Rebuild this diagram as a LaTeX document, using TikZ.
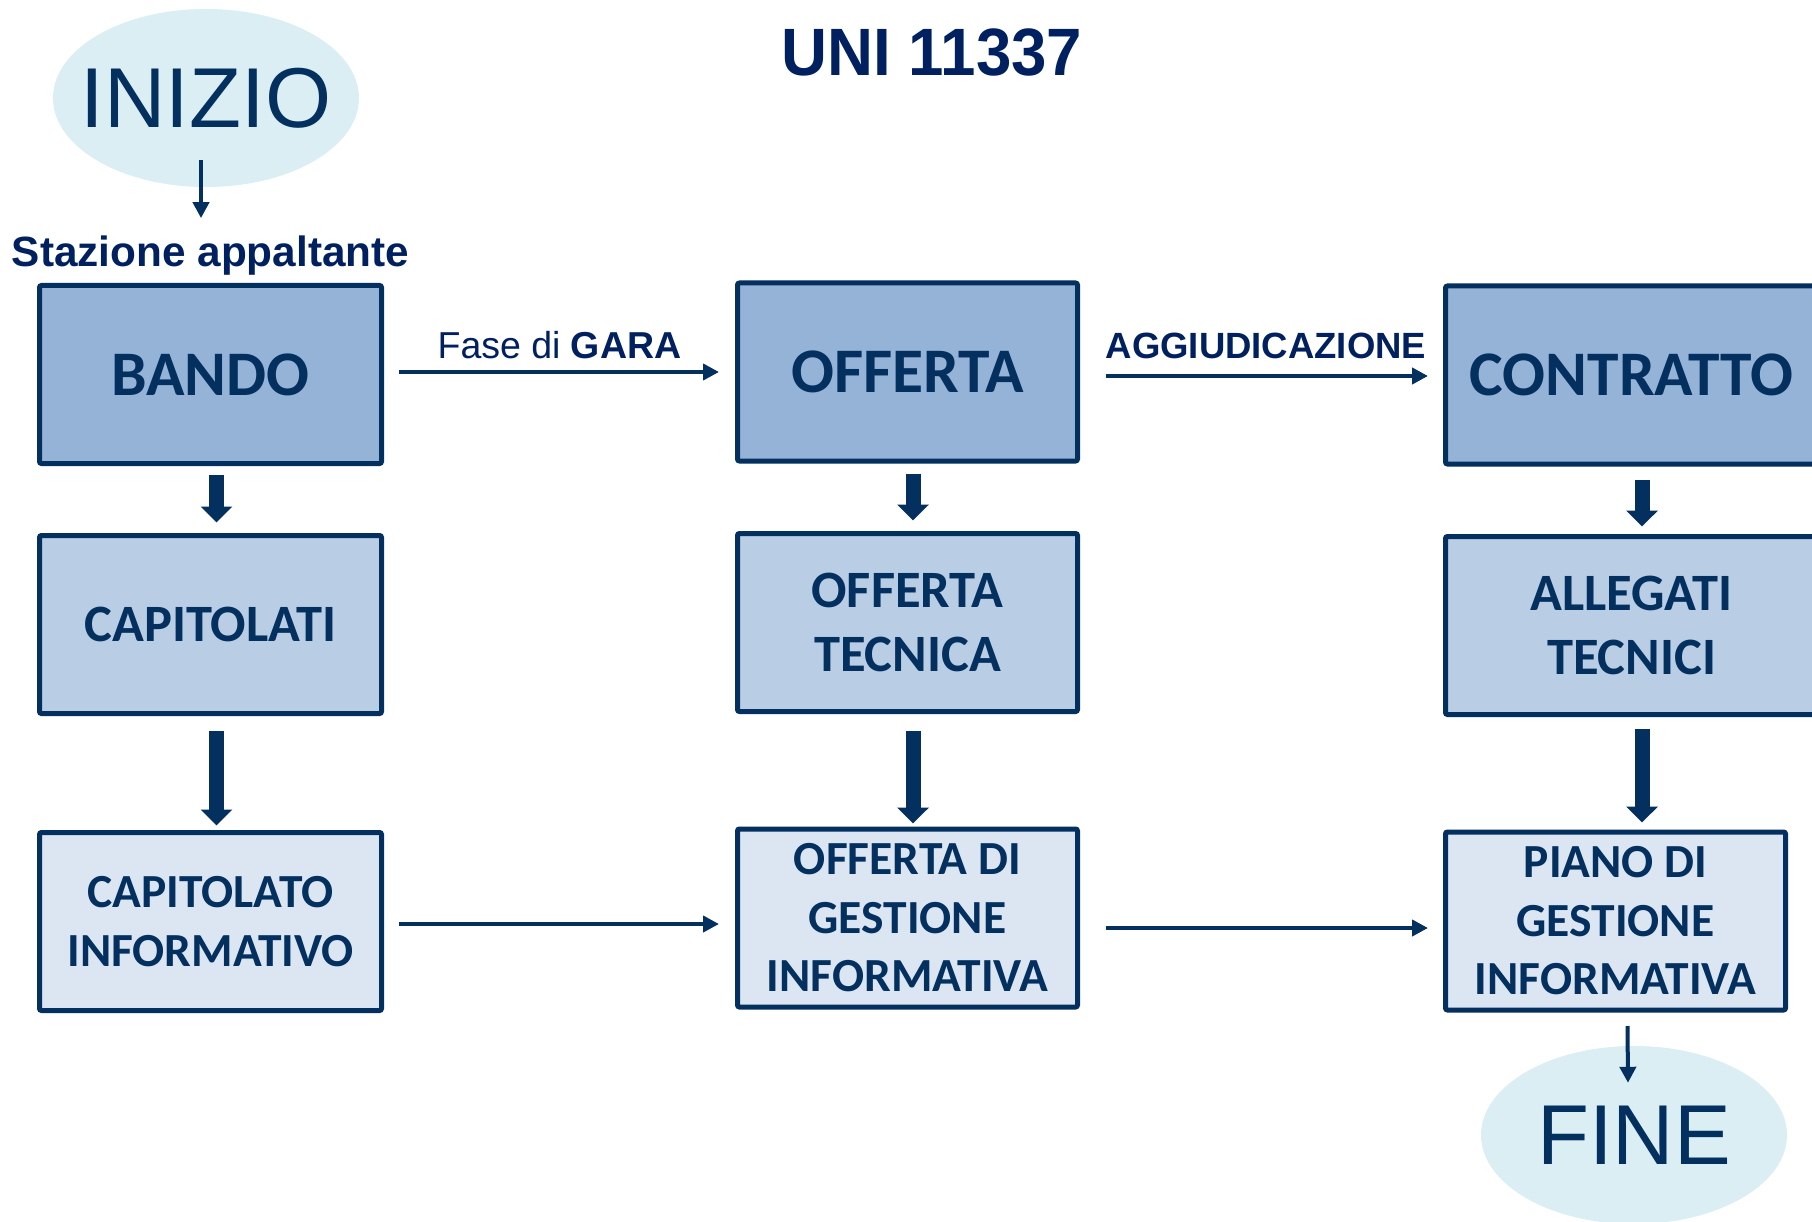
\documentclass[tikz,border=0pt]{standalone}
\usepackage{fontspec}
\usepackage{graphicx}
\setmainfont{Liberation Sans}
\newfontfamily\boxfont{Carlito}
\usetikzlibrary{arrows.meta,shapes.geometric}
\definecolor{navy}{HTML}{03305E}
\definecolor{darkblue}{HTML}{002060}
\definecolor{fillA}{HTML}{95B3D7}
\definecolor{fillB}{HTML}{B9CDE5}
\definecolor{fillC}{HTML}{DCE6F2}
\definecolor{ellfill}{HTML}{DAEEF3}
\begin{document}
\begin{tikzpicture}[x=1pt,y=-1pt,
  box/.style={draw=navy, line width=5pt, rounded corners=2pt, text=navy, align=center,
    inner sep=0pt, minimum width=342pt, minimum height=178pt},
  lvlA/.style={box, fill=fillA, font=\boxfont\bfseries\fontsize{63.5}{76}\selectfont},
  lvlB/.style={box, fill=fillB, font=\boxfont\bfseries\fontsize{52.5}{64}\selectfont},
  lvlC/.style={box, fill=fillC, font=\boxfont\bfseries\fontsize{47.5}{58.5}\selectfont},
  ell/.style={ellipse, fill=ellfill, draw=none, text=navy, inner sep=0pt,
    minimum width=306pt, minimum height=178pt, font=\fontsize{85}{85}\selectfont},
  thinarr/.style={draw=navy, line width=4pt, -{Triangle[width=16pt,length=16pt]}},
  thickarr/.style={draw=navy, line width=15pt, -{Triangle[width=31pt,length=16pt]}},
  lbl/.style={text=darkblue, inner sep=0pt}
]
\useasboundingbox[fill=white] (0,0) rectangle (1812,1222);

% title and start/end
\node[lbl, font=\bfseries\fontsize{67}{67}\selectfont] (title) at (932,52) {\scalebox{0.95}[1]{UNI 11337}};
\node[ell, inner xsep=-22pt] (inizio) at (206,98) {INIZIO};
\node[lbl, anchor=base, font=\bfseries\fontsize{42.3}{50}\selectfont] (stazione) at (210.5,267) {Stazione appaltante};
\node[ell] (fine) at (1634,1135) {FINE};

% column 1
\node[lvlA] (bando) at (210.5,374.5) {BANDO};
\node[lvlB] (capitolati) at (210.5,624.5) {CAPITOLATI};
\node[lvlC] (capinf) at (210.5,921.5) {CAPITOLATO\\INFORMATIVO};

% column 2
\node[lvlA, minimum width=340pt] (offerta) at (907.5,372) {OFFERTA};
\node[lvlB, minimum width=340pt] (offtec) at (907.5,622.5) {OFFERTA\\TECNICA};
\node[lvlC, minimum width=340pt] (offgest) at (907.5,918) {OFFERTA DI\\GESTIONE\\INFORMATIVA};

% column 3
\node[lvlA, minimum width=372pt] (contratto) at (1631.5,375) {CONTRATTO};
\node[lvlB, minimum width=372pt] (allegati) at (1631.5,625.5) {ALLEGATI\\TECNICI};
\node[lvlC, minimum width=340pt] (piano) at (1615.5,921) {PIANO DI\\GESTIONE\\INFORMATIVA};

% labels of horizontal connectors
\node[lbl, anchor=base, font=\fontsize{37.5}{40}\selectfont] (gara) at (559.5,359) {Fase di \textbf{GARA}};
\node[lbl, anchor=base, font=\bfseries\fontsize{36.5}{40}\selectfont] (aggiud) at (1266,359) {AGGIUDICAZIONE};

% thin arrows
\draw[thinarr] ([xshift=-5pt,yshift=27pt]inizio.south) -- ([xshift=-5pt,yshift=18pt]inizio.south |- stazione.north);
\draw[thinarr] ([xshift=14.5pt,yshift=2.5pt]bando.east) -- ([xshift=-16pt]offerta.west);
\draw[thinarr] ([xshift=26pt,yshift=-4pt]offerta.east) -- ([xshift=-15pt,yshift=-1pt]contratto.west);
\draw[thinarr] ([xshift=14.5pt,yshift=-2.5pt]capinf.east) -- ([xshift=-16pt,yshift=-6pt]offgest.west);
\draw[thinarr] ([xshift=26pt,yshift=-10pt]offgest.east) -- ([xshift=-15pt,yshift=-7pt]piano.west);
\draw[thinarr] ([xshift=12pt,yshift=-13.5pt]piano.south) -- ([xshift=-6pt,yshift=-37pt]fine.north);

% thick arrows
\draw[thickarr] ([xshift=6pt,yshift=-8.5pt]bando.south) -- ([xshift=6pt,yshift=10.5pt]capitolati.north);
\draw[thickarr] ([xshift=6pt,yshift=-14.5pt]capitolati.south) -- ([xshift=6pt,yshift=4.5pt]capinf.north);
\draw[thickarr] ([xshift=5.5pt,yshift=-10pt]offerta.south) -- ([xshift=5.5pt,yshift=10.5pt]offtec.north);
\draw[thickarr] ([xshift=5.5pt,yshift=-16.5pt]offtec.south) -- ([xshift=5.5pt,yshift=3pt]offgest.north);
\draw[thickarr] ([xshift=10.5pt,yshift=-13pt]contratto.south) -- ([xshift=10.5pt,yshift=7.5pt]allegati.north);
\draw[thickarr] ([xshift=10.5pt,yshift=-11.5pt]allegati.south) -- ([xshift=26.5pt,yshift=7pt]piano.north);
\end{tikzpicture}
\end{document}
